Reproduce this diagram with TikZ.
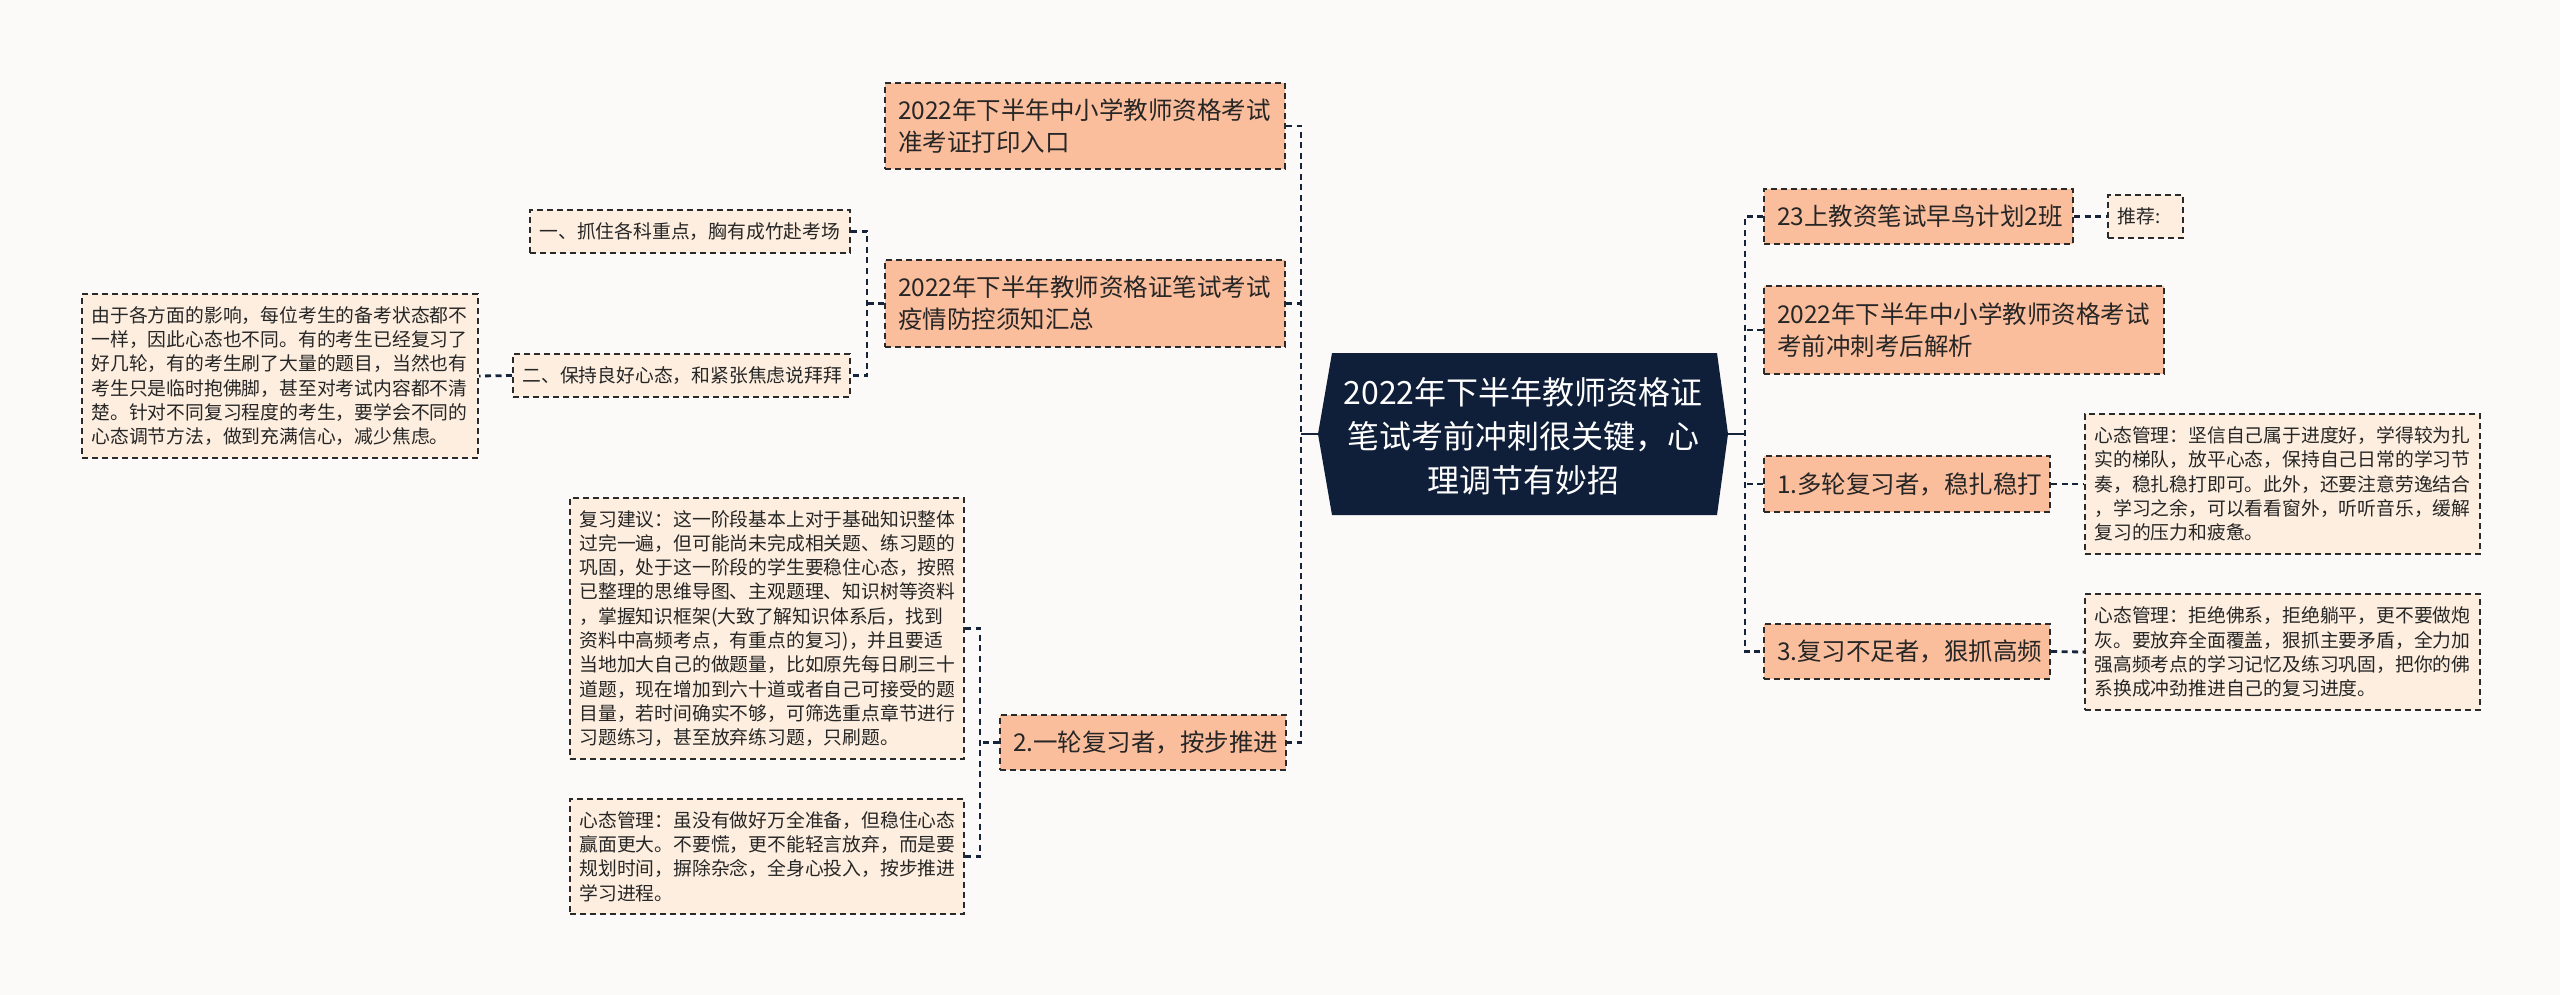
\documentclass[tikz,border=0pt]{standalone}
\usepackage{fontspec}
\setmainfont{Noto Sans CJK SC}
\definecolor{bg}{HTML}{FCFAF8}
\definecolor{peach}{HTML}{FBBE9D}
\definecolor{light}{HTML}{FDEEDF}
\definecolor{rootnavy}{HTML}{0F1F3A}
\definecolor{linenavy}{HTML}{15233B}
\definecolor{boxline}{HTML}{2A2A2A}
\begin{document}
\begin{tikzpicture}[x=1pt,y=-1pt,
  box/.style={draw=boxline, line width=2pt, dash pattern=on 6pt off 4pt,
    anchor=north west, inner ysep=0pt, align=left, text=black!85},
  mid/.style={box, fill=peach, inner xsep=13pt, font=\fontsize{24.5}{32}\selectfont},
  det/.style={box, fill=light, inner xsep=9.5pt, font=\fontsize{18.8}{24.3}\selectfont},
  conn/.style={draw=linenavy, line width=2.8pt, dash pattern=on 6pt off 4.5pt},
  rootconn/.style={draw=linenavy, line width=2.8pt},
  roottext/.style={text=white, align=center, font=\fontsize{32}{44}\selectfont}]
\path[use as bounding box, fill=bg] (0,0) rectangle (2560,995);

% root
\fill[rootnavy] (1332,353) -- (1717,353) -- (1728,434) -- (1717,515) -- (1332,515) -- (1318,434) -- cycle;
\node[roottext] (root) at (1523,436) {2022年下半年教师资格证\\笔试考前冲刺很关键，心\\理调节有妙招};
\coordinate (rootL) at (1318,434);
\coordinate (rootR) at (1728,434);
\coordinate (sL) at (1301,434);
\coordinate (sR) at (1745,434);

% left main branches
\node[mid, minimum width=400pt, minimum height=86pt, text width=374pt] (A1) at (884,82)
  {2022年下半年中小学教师资格考试\\准考证打印入口};
\node[mid, minimum width=400pt, minimum height=87pt, text width=374pt] (A2) at (884,259)
  {2022年下半年教师资格证笔试考试\\疫情防控须知汇总};
\node[mid, minimum width=286pt, minimum height=55pt, text width=260pt] (A3) at (999,714)
  {2.一轮复习者，按步推进};

% right main branches
\node[mid, minimum width=309pt, minimum height=55pt, text width=283pt] (B1) at (1763,188)
  {23上教资笔试早鸟计划2班};
\node[mid, minimum width=400pt, minimum height=88pt, text width=374pt] (B2) at (1763,285)
  {2022年下半年中小学教师资格考试\\考前冲刺考后解析};
\node[mid, minimum width=286pt, minimum height=56pt, text width=260pt] (B3) at (1763,455)
  {1.多轮复习者，稳扎稳打};
\node[mid, minimum width=286pt, minimum height=55pt, text width=260pt] (B4) at (1763,623)
  {3.复习不足者，狠抓高频};

% detail nodes left
\node[det, minimum width=320pt, minimum height=43pt, text width=301pt] (C1) at (529,209)
  {一、抓住各科重点，胸有成竹赴考场};
\node[det, minimum width=337pt, minimum height=43pt, text width=318pt] (C2) at (512,353)
  {二、保持良好心态，和紧张焦虑说拜拜};
\node[det, minimum width=396pt, minimum height=164pt, text width=377pt] (C3) at (81,293)
  {由于各方面的影响，每位考生的备考状态都不\\一样，因此心态也不同。有的考生已经复习了\\好几轮，有的考生刷了大量的题目，当然也有\\考生只是临时抱佛脚，甚至对考试内容都不清\\楚。针对不同复习程度的考生，要学会不同的\\心态调节方法，做到充满信心，减少焦虑。};
\node[det, minimum width=394pt, minimum height=261pt, text width=375pt] (D1) at (569,497)
  {复习建议：这一阶段基本上对于基础知识整体\\过完一遍，但可能尚未完成相关题、练习题的\\巩固，处于这一阶段的学生要稳住心态，按照\\已整理的思维导图、主观题理、知识树等资料\\，掌握知识框架(大致了解知识体系后，找到\\资料中高频考点，有重点的复习)，并且要适\\当地加大自己的做题量，比如原先每日刷三十\\道题，现在增加到六十道或者自己可接受的题\\目量，若时间确实不够，可筛选重点章节进行\\习题练习，甚至放弃练习题，只刷题。};
\node[det, minimum width=394pt, minimum height=115pt, text width=375pt] (D2) at (569,798)
  {心态管理：虽没有做好万全准备，但稳住心态\\赢面更大。不要慌，更不能轻言放弃，而是要\\规划时间，摒除杂念，全身心投入，按步推进\\学习进程。};

% detail nodes right
\node[det, minimum width=75pt, minimum height=43pt, text width=56pt] (E1) at (2107,194)
  {推荐:};
\node[det, minimum width=395pt, minimum height=140pt, text width=376pt] (E2) at (2084,413)
  {心态管理：坚信自己属于进度好，学得较为扎\\实的梯队，放平心态，保持自己日常的学习节\\奏，稳扎稳打即可。此外，还要注意劳逸结合\\，学习之余，可以看看窗外，听听音乐，缓解\\复习的压力和疲惫。};
\node[det, minimum width=395pt, minimum height=116pt, text width=376pt] (E3) at (2084,593)
  {心态管理：拒绝佛系，拒绝躺平，更不要做炮\\灰。要放弃全面覆盖，狠抓主要矛盾，全力加\\强高频考点的学习记忆及练习巩固，把你的佛\\系换成冲劲推进自己的复习进度。};

% root connectors
\draw[rootconn] (rootL) -- (sL);
\draw[rootconn] (rootR) -- (sR);

% left spine
\draw[conn] (A1.east) -- (A1.east -| sL) -- (A3.east -| sL) -- (A3.east);
\draw[conn] (A2.east) -- (A2.east -| sL);

% right spine
\draw[conn] (B1.west) -- (B1.west -| sR) -- (B4.west -| sR) -- (B4.west);
\draw[conn] (B2.west) -- (B2.west -| sR);
\draw[conn] (B3.west) -- (B3.west -| sR);

% A2 children
\coordinate (jA) at (867,303);
\draw[conn] (C1.east) -- (C1.east -| jA) -- (C2.east -| jA) -- (C2.east);
\draw[conn] (A2.west) -- (A2.west -| jA);
\draw[conn] (C2.west) -- (C3.east);

% A3 children
\coordinate (jB) at (980,741);
\draw[conn] (D1.east) -- (D1.east -| jB) -- (D2.east -| jB) -- (D2.east);
\draw[conn] (A3.west) -- (A3.west -| jB);

% right children
\draw[conn] (B1.east) -- (E1.west);
\draw[conn] (B3.east) -- (E2.west);
\draw[conn] (B4.east) -- (E3.west);
\end{tikzpicture}
\end{document}
